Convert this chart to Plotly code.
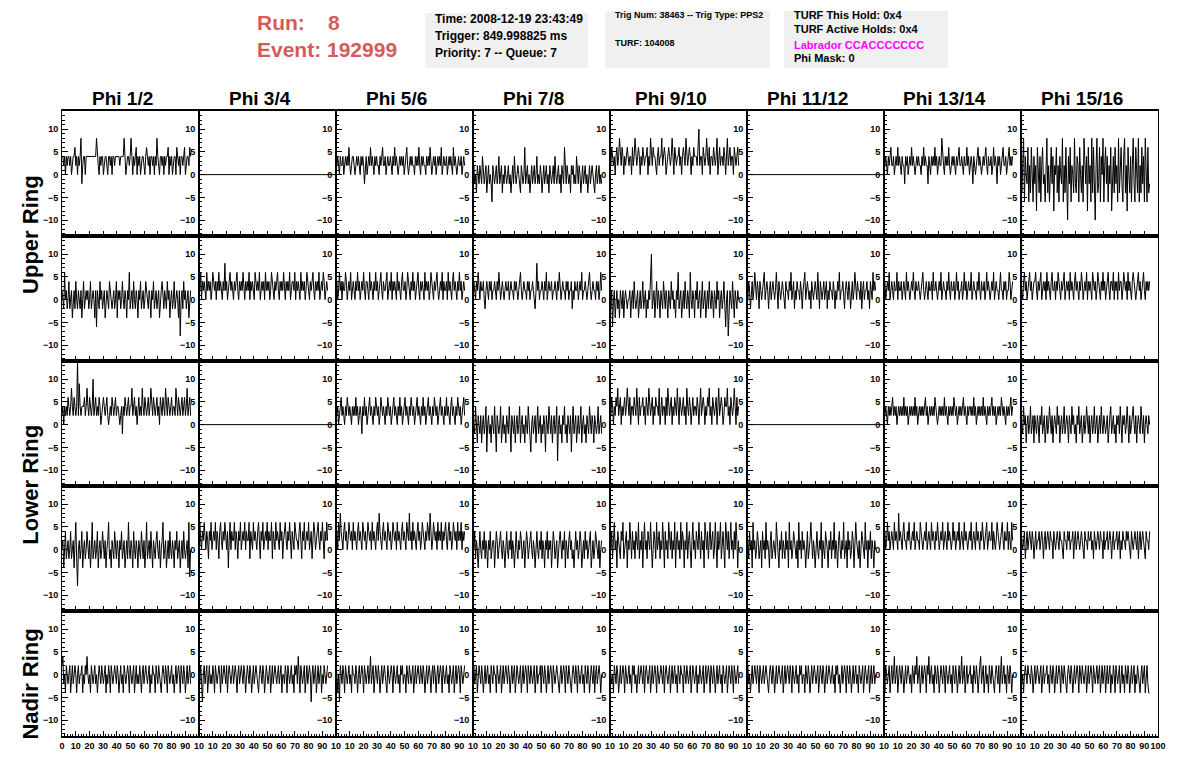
import plotly.graph_objects as go

# ---------------- data ----------------
SAMPLE_NS = 0.63          # sample spacing of the waveforms (ns)
FLAT_SPAN_NS = [0, 100]   # dead channels are drawn as a flat line over the full window
FLAT_VALUES = [0, 0]

phi_labels = ["Phi 1/2", "Phi 3/4", "Phi 5/6", "Phi 7/8",
              "Phi 9/10", "Phi 11/12", "Phi 13/14", "Phi 15/16"]
ring_labels = ["Upper Ring", "Lower Ring", "Nadir Ring"]
y_tick_vals = [-10, -5, 0, 5, 10]
x_tick_vals = [0, 10, 20, 30, 40, 50, 60, 70, 80, 90, 100]
x_tick_text = ["0", "10", "20", "30", "40", "50", "60", "70", "80", "90", "100"]

# Upper ring, top antennas (None = dead channel, flat at 0)
upper_top = [
    [4,4,2,4,0,4,2,4,4,2, 4,0,2,4,4,6,2,4,0,4, 2,4,8,-2,2,4,4,0,4,4, 4,4,4,4,4,4,4,4,4,4, 8,4,2,0,4,2,4,4,0,2,
     4,4,2,0,4,4,2,4,0,4, 4,2,4,4,4,4,4,2,4,4, 4,4,8,4,0,2,4,4,2,4, 8,4,0,4,2,4,6,0,4,2, 4,0,2,4,4,2,0,4,6,4,
     2,4,0,4,4,2,4,0,4,2, 8,4,2,0,4,4,2,4,0,4, 2,4,4,6,0,4,2,4,0,2, 4,4,0,6,4,2,4,0,4,4, 2,4,6,0,2,4,4,2,6,4],
    None,
    [4,2,4,2,0,4,2,2,4,0, 2,4,2,4,2,6,2,0,2,4, 4,2,0,2,4,2,4,2,0,4, 2,4,2,-2,2,4,0,2,4,2, 6,2,4,2,0,4,2,4,2,2,
     0,4,2,4,6,2,2,4,0,2, 4,2,2,4,2,0,4,2,6,2, 4,2,0,2,4,2,4,2,4,0, 2,4,6,2,0,2,4,2,4,2, 2,0,4,2,4,2,6,2,0,4,
     2,4,2,2,0,4,2,4,2,6, 2,0,2,4,2,4,0,2,4,2, 4,2,6,0,2,4,2,2,4,0, 2,4,2,4,2,0,6,2,4,2, 0,2,4,2,2,4,0,2,4,2],
    [0,2,-2,0,-4,2,0,-2,2,0, -2,4,0,-2,0,2,-4,0,2,-2, 0,-2,-6,2,0,-2,0,2,-2,0, 4,-2,0,2,-4,0,-2,2,0,-2, 0,2,-2,0,-4,0,2,-2,4,0,
     -2,0,2,0,-2,-4,2,0,-2,0, 6,-2,0,2,-2,0,-4,0,2,-2, 0,2,-2,0,4,-2,0,-2,2,0, -4,0,2,-2,0,2,-2,0,-4,2, 0,-2,0,2,-2,4,0,-2,0,2,
     -2,0,-4,2,0,-2,6,0,-2,2, 0,-2,0,-4,2,0,2,-2,0,-2, 4,0,-2,2,0,-4,0,2,-2,0, 2,-2,0,-4,0,2,-2,0,2,0, -2,-4,0,2,-2,0,2,-2,0,-2],
    [4,2,6,4,2,4,0,4,6,2, 4,8,4,2,6,4,0,4,2,4, 6,4,2,4,4,0,6,2,4,8, 4,2,4,6,4,0,4,2,6,4, 2,4,4,6,0,4,2,8,4,2,
     6,4,4,2,0,4,6,2,4,4, 8,2,4,6,4,0,2,4,6,4, 2,4,8,4,0,6,4,2,4,4, 6,2,4,0,4,6,4,2,8,4, 2,4,6,4,0,4,2,6,4,4,
     4,2,6,10,2,4,4,0,6,4, 2,4,8,4,2,6,0,4,4,2, 6,4,2,4,8,0,4,6,2,4, 4,2,6,4,0,4,8,2,4,6, 2,4,4,0,6,4,2,4,6,2],
    None,
    [4,2,4,2,0,4,2,4,6,2, 2,4,0,2,4,2,6,2,4,2, 0,4,2,2,-2,4,2,4,0,2, 4,2,6,2,4,2,0,2,4,2, 4,2,2,0,4,2,6,2,4,2,
     2,-2,4,2,0,4,2,4,2,6, 2,4,0,2,4,2,2,8,4,2, 0,4,2,4,2,6,2,0,2,4, 2,4,2,0,4,2,4,6,2,2, 4,2,0,4,2,2,6,2,4,0,
     2,4,2,-2,4,2,0,2,4,6, 2,4,2,0,2,4,2,4,6,2, 0,4,2,2,4,0,2,6,2,4, 2,-2,4,2,4,0,2,4,6,2, 2,4,0,2,4,6,2,4,2,4],
    [6,-4,2,8,-6,4,0,-2,6,-6, 2,-4,6,0,-6,4,-2,2,-8,6, 0,-4,4,-6,2,6,-2,0,-6,4, 8,-4,2,-6,0,6,-2,4,-8,2, 0,6,-4,2,-6,4,0,-2,8,-6,
     2,-4,6,0,-10,4,-2,6,-6,2, 0,-4,8,-2,-4,4,2,-6,6,0, -4,2,-6,8,0,-2,4,-8,6,-2, 2,-6,8,-4,6,0,-10,2,8,-4, -2,6,-6,4,0,8,-6,2,6,-2,
     4,-6,2,-2,6,-8,0,4,-4,6, -2,2,-6,8,-4,0,6,-2,-6,4, 8,-4,2,-8,6,0,-4,4,-6,2, 8,-2,-6,6,0,-4,8,-6,2,-4, 6,-2,4,-6,8,0,-6,6,-4,-2],
]

# Upper ring, bottom antennas
upper_bottom = [
    [2,0,-2,6,0,2,-2,0,4,-2, 0,2,-4,0,2,-2,4,0,-2,2, 0,-2,2,-4,0,4,-2,0,2,0, 2,-2,0,4,-2,0,2,0,-4,2, -6,2,0,-2,4,0,2,-2,0,2,
     -4,0,2,0,-2,4,2,0,-2,0, 2,-2,0,4,-4,2,0,2,-2,0, 4,0,-2,2,0,-4,2,0,6,-2, 0,2,-2,4,0,-2,2,0,-4,2, 0,4,-2,0,2,-2,0,4,2,0,
     -2,2,0,-4,2,0,4,-2,0,2, -2,0,2,-4,0,2,4,0,-2,2, 0,-2,4,0,2,-4,0,2,-2,0, 4,-2,0,2,0,-4,2,-8,0,2, -2,4,0,2,-2,0,2,-4,0,2],
    [4,2,6,0,4,2,4,2,0,6, 2,4,2,4,0,2,6,4,2,4, 0,4,2,6,2,4,2,0,4,2, 8,2,4,0,2,4,6,2,4,2, 0,4,2,4,6,2,0,4,2,4,
     2,6,2,0,4,2,4,2,6,0, 4,2,4,2,0,6,4,2,4,2, 6,0,2,4,2,4,0,6,2,4, 2,4,0,2,6,4,2,0,4,2, 4,6,2,0,4,2,4,2,6,2,
     0,4,2,4,2,6,0,2,4,4, 2,6,0,4,2,4,2,0,6,2, 4,2,4,0,2,6,4,2,0,4, 2,4,6,2,0,4,2,4,2,6, 0,2,4,2,6,4,0,2,4,2],
    [2,4,0,2,6,2,4,0,4,2, 2,6,4,0,2,4,2,6,0,2, 4,2,0,4,2,6,2,4,0,2, 4,2,6,2,0,4,4,2,0,6, 2,4,2,0,4,2,6,2,4,0,
     2,4,6,2,0,4,2,2,4,6, 0,2,4,2,6,0,4,2,4,2, 0,6,2,4,2,0,4,6,2,2, 4,0,2,6,4,2,0,4,2,6, 2,4,0,2,4,6,2,0,4,2,
     4,2,0,6,2,4,2,4,0,2, 6,4,2,0,4,2,4,6,2,0, 2,4,2,6,0,4,2,2,4,0, 6,2,4,2,0,4,6,2,4,2, 0,4,2,6,2,4,0,2,4,2],
    [2,4,2,0,4,2,6,2,0,4, 2,2,4,0,-2,2,4,2,0,4, 2,4,0,2,2,4,2,0,4,2, 6,2,0,2,4,2,0,2,4,2, 2,4,0,2,4,2,2,0,4,2,
     4,2,0,2,4,6,2,0,2,4, 2,2,0,4,2,4,0,2,2,4, 2,0,-2,2,8,2,4,0,2,2, 4,2,0,4,2,6,0,2,4,2, 2,4,0,2,2,4,2,0,4,2,
     6,2,0,2,4,2,2,0,4,2, 4,0,2,2,4,-2,2,0,4,2, 2,4,0,2,4,2,6,0,2,2, 4,2,0,2,4,6,2,0,2,4, 2,2,0,4,2,4,0,2,6,2],
    [0,-2,2,-6,0,2,-4,0,2,-2, 0,-4,2,0,-2,2,-4,0,2,0, -2,0,0,2,-4,0,2,-2,4,0, -2,0,2,-4,0,2,-2,0,4,-2, 0,2,-4,0,-2,2,0,4,10,-2,
     0,2,-4,0,4,-2,2,0,-4,2, 0,-2,4,0,-2,2,0,-4,2,0, -2,4,0,2,-2,0,-4,2,0,6, -2,0,2,-4,0,2,-2,4,0,-2, 2,0,-4,6,0,-2,2,0,-4,2,
     0,4,-2,0,2,-4,0,4,-2,0, 2,-4,0,2,-2,4,0,-2,2,0, -4,2,0,-2,4,0,2,-4,0,2, -2,0,4,-2,-6,0,2,-8,-4,2, 0,-2,4,0,-4,2,0,-2,2,0],
    [2,0,4,2,-2,2,4,0,2,6, 2,0,4,2,-2,4,2,0,2,4, 6,0,2,4,2,-2,2,4,0,2, 4,2,0,2,6,2,-2,4,2,0, 2,4,2,0,-2,4,2,2,0,4,
     2,6,0,2,4,-2,2,0,4,2, 2,0,4,2,-2,2,4,6,0,2, 4,2,0,2,-2,4,2,0,2,4, 2,0,6,2,-2,4,2,0,2,4, 0,2,4,-2,2,0,4,2,2,0,
     4,2,-2,2,0,4,2,6,0,2, 2,4,0,-2,2,4,2,0,4,2, -2,2,4,0,2,6,2,0,4,2, 2,0,4,-2,2,4,0,2,2,4, 0,2,-2,4,2,0,6,2,4,2],
    [2,4,0,2,4,2,6,0,2,4, 2,0,4,2,2,6,0,4,2,2, 4,0,2,4,2,0,6,2,4,2, 0,2,4,2,6,2,0,4,2,2, 4,2,0,2,4,6,2,0,2,4,
     2,0,4,2,2,4,0,6,2,2, 4,2,0,2,4,2,6,0,2,4, 2,2,0,4,2,6,2,0,4,2, 2,4,0,2,6,2,4,0,2,2, 4,0,2,6,2,4,0,2,4,2,
     2,6,0,2,4,2,2,0,4,2, 6,2,0,4,2,2,4,0,2,6, 2,4,2,0,2,4,2,6,0,2, 4,2,2,0,4,6,2,2,0,4, 2,4,0,2,2,6,4,0,2,4],
    [4,2,0,4,6,2,4,0,2,4, 6,2,4,0,2,4,4,6,2,0, 4,2,4,6,0,2,4,2,4,0, 6,2,4,2,0,4,6,2,2,4, 0,4,2,6,4,2,0,4,2,4,
     6,0,2,4,2,4,0,6,2,4, 2,0,4,6,2,4,2,0,4,2, 6,4,0,2,4,2,6,0,4,2, 4,2,0,6,4,2,4,0,2,6, 4,2,0,4,2,6,2,4,0,2,
     4,6,2,0,4,4,2,6,0,4, 2,4,0,6,2,4,4,0,2,6, 4,2,4,0,6,2,4,2,0,4, 6,4,2,0,2,4,6,2,4,0, 2,4,6,2,0,4,2,4,2,4],
]

# Lower ring, top antennas
lower_top = [
    [2,4,0,4,2,4,2,6,4,2, 4,8,4,2,6,4,2,4,14,2, 9,4,2,4,4,4,6,2,4,8, 4,2,6,4,2,4,10,2,4,6, 2,4,2,6,4,0,2,4,6,4,
     2,4,6,2,0,2,4,2,6,4, 2,4,6,2,4,4,2,0,2,4, -2,4,2,6,4,2,4,6,2,4, 4,8,2,4,6,2,4,0,4,6, 2,4,2,8,4,2,6,4,2,4,
     6,2,4,8,4,2,6,4,2,4, 6,2,4,0,6,4,2,6,4,2, 8,4,2,6,4,2,4,6,2,4, 4,2,8,4,2,6,4,2,4,6, 2,4,6,2,4,8,2,4,6,2],
    None,
    [4,2,4,0,2,4,6,2,4,2, 0,4,2,6,4,2,4,2,0,4, 2,4,2,6,2,4,0,2,4,2, -2,4,2,6,2,4,0,2,4,6, 2,4,2,0,4,2,6,4,2,4,
     0,2,6,4,2,4,2,0,4,2, 6,4,2,4,0,2,4,6,2,4, 2,0,4,2,6,2,4,0,2,4, 6,2,4,2,0,4,2,6,4,2, 4,0,2,4,6,2,4,2,0,4,
     2,6,2,4,0,2,4,6,2,4, 2,0,4,2,6,4,2,4,0,2, 4,6,2,4,2,0,4,2,6,2, 4,2,0,4,6,2,4,2,0,4, 2,6,4,2,4,0,2,4,6,2],
    [2,0,-2,4,0,-4,2,0,-2,2, -4,0,2,-2,0,4,-6,0,2,-2, 0,-4,2,0,-2,4,0,-6,2,0, -2,0,4,-4,0,2,-2,0,-4,2, 0,-2,4,0,-6,2,0,-2,2,-4,
     0,2,-2,0,4,-4,0,2,-2,0, -4,2,0,-2,4,0,-2,-6,0,2, -2,0,2,-4,0,4,-2,0,2,-4, 0,-2,2,0,-6,2,0,-2,4,0, -2,2,-4,0,2,-2,0,4,-8,0,
     2,-2,0,-4,2,0,4,-2,0,-4, 2,0,-2,2,-6,0,4,-2,0,2, -4,0,2,-2,0,4,-4,0,2,-2, 0,-4,2,0,-2,4,0,-2,2,0, -4,2,0,-2,0,4,-2,0,2,-2],
    [4,2,6,4,0,4,2,6,4,8, 2,4,6,0,4,2,4,6,2,4, 8,4,2,6,0,4,4,2,6,4, 2,8,4,0,6,2,4,4,6,2, 4,0,6,4,2,8,4,2,4,6,
     0,4,2,6,4,4,2,8,0,4, 6,2,4,4,0,6,2,8,4,2, 4,6,0,4,2,6,4,2,8,4, 0,6,4,2,4,6,2,4,0,8, 4,2,6,4,0,4,6,2,4,4,
     2,6,4,0,4,8,2,4,6,4, 0,4,2,6,4,8,2,4,0,6, 4,2,4,6,0,4,8,2,4,6, 4,0,2,6,4,4,8,2,4,0, 6,4,2,4,8,4,0,6,2,4],
    None,
    [4,2,4,2,0,4,2,4,2,4, 6,2,4,2,4,0,2,4,2,4, 2,4,2,6,2,4,2,4,0,2, 4,2,4,2,4,2,6,2,4,0, 2,4,2,4,2,4,2,4,6,2,
     4,0,2,4,2,4,2,4,2,6, 4,2,0,2,4,2,4,2,4,2, 6,2,4,2,0,4,2,4,2,4, 2,6,4,2,4,0,2,4,2,4, 2,4,6,2,4,2,0,4,2,4,
     4,2,4,2,6,2,4,0,2,4, 2,4,2,4,2,6,2,4,2,0, 4,2,4,2,4,6,2,4,2,4, 0,2,4,2,4,2,6,4,2,4, 2,0,4,2,4,2,4,6,2,4],
    [2,0,-2,4,0,2,-4,0,2,-2, 0,4,-2,0,2,-4,2,0,-2,2, 0,-4,2,0,4,-2,0,2,-4,0, 2,-2,0,4,0,-2,2,-4,0,2, 0,-2,4,0,2,-4,0,2,-2,0,
     4,-2,0,2,0,-4,2,0,-2,4, 0,2,-2,0,-4,2,0,4,-2,0, 2,-4,0,2,-2,0,4,0,-2,2, -4,0,2,-2,0,4,-2,0,2,-4, 0,2,-2,4,0,-2,2,0,-2,0,
     2,-4,0,2,4,-2,0,2,-2,0, -4,2,0,2,-2,4,0,-4,2,0, 2,-2,0,4,0,-4,2,-2,0,2, 4,0,-2,2,-4,0,2,0,-2,4, 0,-2,2,-4,0,2,0,-2,2,0],
]

# Lower ring, bottom antennas
lower_bottom = [
    [0,2,-4,0,4,-2,0,2,-2,0, 4,-2,0,2,-4,0,6,-2,-8,0, 2,-2,0,4,-4,0,2,-2,0,4, 0,-2,2,-4,0,6,-2,0,2,-2, 0,4,-4,0,2,-2,0,4,0,-2,
     2,-4,0,2,6,-2,0,-4,2,0, -2,4,0,-2,2,0,-4,2,0,4, -2,0,2,-4,0,2,-2,6,0,-2, 2,0,-4,4,0,-2,2,0,-4,2, 0,-2,4,0,-2,2,-4,0,6,-2,
     0,2,-2,4,0,-4,2,0,-2,2, 4,0,-2,2,-4,0,2,6,-2,0, 2,-4,0,2,-2,4,0,-2,2,0, -4,2,0,4,-2,0,2,-4,0,2, -2,4,0,-2,0,2,-4,6,-6,0],
    [4,6,2,0,4,2,6,2,0,4, 2,-2,4,2,6,0,2,4,2,6, 0,4,2,-2,4,6,2,0,4,2, 6,2,0,4,-4,2,6,0,4,2, 2,6,0,4,2,-2,4,2,6,0,
     2,4,2,6,0,4,2,2,6,-2, 4,2,0,6,2,4,2,0,4,6, 2,-2,4,2,6,0,2,4,2,6, 0,4,2,2,6,-2,4,2,0,6, 2,4,2,0,6,2,4,-2,2,4,
     6,2,0,4,2,6,2,-2,4,2, 0,6,4,2,2,0,4,6,2,-2, 4,2,6,0,2,4,2,6,0,2, 4,-2,2,6,4,0,2,4,6,2, 0,4,2,6,2,-2,4,2,6,2],
    [2,4,0,6,2,8,4,2,0,4, 6,2,4,0,2,6,4,2,4,0, 6,2,4,2,0,4,6,2,4,2, 0,6,4,2,4,0,2,6,4,2, 4,0,6,2,4,2,0,4,6,2,
     8,4,2,0,4,6,2,4,2,0, 6,4,2,4,0,2,6,4,2,4, 0,6,2,4,2,0,4,6,2,4, 2,0,6,4,2,8,2,4,0,6, 2,4,2,0,4,6,2,4,0,2,
     6,4,2,0,4,2,6,4,2,8, 4,0,2,6,4,2,4,0,6,2, 4,2,6,0,4,2,4,6,2,0, 4,6,2,4,0,2,6,4,2,4, 0,6,2,4,2,6,0,4,2,4],
    [2,0,4,-2,2,0,-4,2,4,0, -2,2,0,4,-2,2,0,-4,2,0, 4,-2,0,2,2,-4,0,4,2,-2, 0,2,4,0,-2,2,0,-4,2,4, 0,-2,2,0,4,-2,2,0,-4,2,
     4,0,-2,2,0,4,2,-2,0,2, -4,0,4,2,-2,0,2,4,0,-2, 2,0,-4,2,4,0,-2,2,0,4, -2,2,0,-4,2,0,4,-2,2,0, 2,-4,0,4,2,-2,0,2,-4,0,
     2,4,0,-2,2,0,4,-4,2,0, -2,2,4,0,2,-2,0,-4,2,4, 0,2,-2,0,4,2,-4,0,2,-2, 4,0,2,-2,0,2,4,-4,0,2, -2,0,4,2,0,-2,2,-4,0,2],
    [2,0,4,-2,2,6,0,2,-4,4, 2,0,-2,4,2,6,-2,0,2,4, -4,2,0,6,2,-2,4,0,2,-2, 4,2,0,6,-2,2,0,4,-4,2, 6,0,2,-2,4,2,0,6,2,-4,
     0,4,2,-2,6,0,2,4,-2,2, 0,6,2,-4,4,0,2,-2,6,2, 0,4,-2,2,0,6,-4,2,4,0, 2,-2,6,0,4,2,-4,2,0,6, -2,2,4,0,-4,2,6,0,2,-2,
     4,2,0,6,2,-2,4,0,2,-4, 6,2,0,4,-2,2,6,0,2,4, -2,0,6,2,-4,4,0,2,6,-2, 2,4,0,-4,6,2,0,4,-2,2, 6,0,2,-2,4,0,6,2,-4,2],
    [0,2,-2,4,0,2,-4,6,0,2, -2,0,4,2,-2,0,2,-4,4,0, 2,-2,6,0,2,0,-4,2,4,-2, 0,2,0,-2,6,2,0,-4,2,0, 4,-2,2,0,-2,4,0,2,-4,6,
     0,2,-2,0,4,2,0,-2,2,-4, 6,0,2,-2,4,0,2,0,-4,2, 4,-2,0,2,6,0,-2,2,0,-4, 2,4,0,-2,2,0,6,-4,2,0, -2,4,2,0,-4,2,0,4,-2,2,
     0,6,-2,2,0,-4,2,4,0,-2, 2,0,6,-2,0,2,-4,4,0,2, -2,0,4,2,-4,0,6,2,0,-2, 2,-4,0,4,2,0,-2,6,0,2, -4,2,0,4,-2,2,0,-4,2,0],
    [2,4,0,2,6,2,4,0,2,4, 2,0,6,2,4,2,0,8,2,4, 2,0,4,6,2,2,0,4,2,6, 2,0,2,4,2,6,0,2,4,2, 2,0,6,4,2,0,2,4,2,6,
     0,2,4,2,0,6,2,4,2,0, 4,2,6,2,0,2,4,2,6,0, 2,4,2,0,6,2,4,2,0,2, 6,2,4,0,2,4,2,6,0,2, 4,2,0,6,2,4,2,0,2,4,
     2,6,0,2,4,2,0,6,2,4, 2,0,4,2,6,2,0,2,4,6, 0,2,4,2,2,6,0,4,2,0, 2,6,4,2,0,2,4,6,2,0, 4,2,2,6,0,4,2,0,6,2],
    [4,2,0,2,4,-2,2,4,0,2, 4,2,0,4,2,-2,2,4,0,2, 2,4,0,2,4,2,-2,2,4,0, 2,4,2,0,4,2,2,-2,4,2, 0,2,4,2,0,4,2,2,0,-2,
     4,2,2,0,4,2,4,0,2,2, 4,-2,2,4,0,2,4,2,0,2, 4,2,0,-2,4,2,2,0,4,2, 2,4,0,2,-2,4,2,0,2,4, 2,0,4,2,2,-2,4,0,2,2,
     4,0,2,4,2,-2,2,4,0,2, 2,4,0,2,4,-2,2,0,4,2, 2,0,4,2,4,2,0,-2,4,2, 0,2,4,2,0,4,-2,2,4,0, 2,4,2,0,-2,4,2,2,0,4],
]

# Nadir ring
nadir = [
    [2,4,-2,0,-4,2,0,-2,0,2, -4,0,2,-2,0,2,0,-4,0,2, -2,0,0,2,-4,0,-2,2,0,4, 0,-2,0,-4,2,0,-2,0,2,-2, 0,-4,0,2,0,-2,2,0,-2,0,
     2,-4,0,-2,2,0,-4,2,0,-2, 0,2,0,-2,2,0,-4,0,2,-2, 0,-4,2,0,-2,0,2,0,-4,2, 0,-2,0,2,-4,0,2,-2,0,-2, 2,0,-4,0,2,-2,0,2,0,-2,
     0,2,-4,0,-2,2,0,0,-4,2, 0,-2,2,0,-2,-4,0,2,0,-2, 2,0,-4,2,0,-2,0,2,-2,0, -4,0,2,-2,0,2,0,-4,2,0, -2,2,0,-4,0,2,-2,0,2,-2],
    [0,-2,2,-4,-6,0,2,-2,0,2, -4,0,2,-2,0,-2,2,0,-4,2, 0,-2,0,2,0,-4,2,-2,0,2, 0,-2,2,-4,0,2,0,-2,0,2, -2,0,2,0,-4,0,2,-2,0,2,
     0,-2,2,0,-4,0,2,0,-2,2, 0,-4,0,2,-2,0,2,0,-2,-4, 0,2,0,-2,2,0,-4,0,2,0, -2,0,2,-4,0,2,-2,0,2,0, -2,0,2,-2,0,2,-4,0,0,-2,
     2,0,-4,2,0,-2,0,2,-2,0, -4,2,0,2,-2,4,0,-4,2,0, -2,0,2,-4,0,2,-2,0,2,0, -6,0,2,-2,0,2,-4,0,2,-2, 0,2,-4,0,-2,2,0,-2,0,2],
    [2,0,-4,0,-6,2,0,-2,2,0, -4,2,0,-2,0,2,-2,0,-4,2, 0,0,-2,2,0,-4,0,2,-2,0, 2,0,-4,2,0,-2,0,2,-2,0, 4,-2,0,2,-4,0,2,0,-2,2,
     0,-4,0,2,-2,0,2,0,-2,-4, 2,0,-2,0,2,0,-4,2,0,-2, 0,2,-2,0,-4,2,0,2,-2,0, 0,-4,2,0,-2,2,0,-2,0,2, -4,0,2,-2,0,2,0,-2,2,0,
     -2,2,0,-4,0,2,-2,0,2,0, -4,0,2,-2,2,0,-4,0,2,-2, 0,2,0,-4,2,0,-2,0,2,-2, 0,-4,2,0,-2,0,2,-4,0,2, -2,0,2,0,-4,2,0,-2,0,2],
    [0,2,-2,0,2,-4,0,2,0,-2, 2,0,-4,0,2,-2,0,2,-2,0, -4,2,0,-2,2,0,0,-4,2,0, -2,0,2,-4,0,2,-2,0,2,0, -2,2,0,-4,0,2,-2,0,2,-4,
     0,2,0,-2,0,2,-4,0,2,-2, 0,2,0,-4,2,0,-2,2,0,-2, 0,2,-4,0,2,-2,0,0,2,-4, 2,0,-2,2,0,-4,0,2,-2,0, 2,0,-4,2,0,-2,0,2,0,-2,
     -4,0,2,-2,0,2,0,-4,2,0, -2,2,0,-2,-4,0,2,0,-2,2, 0,-4,2,0,-2,0,2,-2,0,-4, 2,0,-2,2,0,-4,0,2,0,-2, 2,-4,0,2,-2,0,2,0,-4,0],
    [2,0,-2,0,-4,2,0,-2,2,0, -4,0,2,-2,0,2,0,-4,2,0, -2,0,2,-2,0,-4,2,0,2,-2, 0,-4,0,2,-2,0,2,0,-2,2, -4,0,2,0,-2,0,2,-4,0,2,
     -2,0,2,0,-4,2,0,-2,0,2, 0,-2,2,-4,0,2,0,-2,0,2, -4,0,2,-2,0,2,-2,0,-4,2, 0,-2,2,0,0,-4,2,0,-2,2, 0,-2,0,2,-4,0,2,0,-2,0,
     2,-4,0,-2,2,0,-2,0,2,-4, 0,2,-2,0,2,0,-4,2,0,-2, 2,0,-4,0,2,-2,0,2,-2,0, -4,2,0,-2,0,2,-4,0,2,0, -2,2,0,-4,2,0,-2,0,2,-2],
    [0,2,-2,0,-4,0,2,-2,0,2, 0,-2,2,0,-4,2,0,-2,0,2, -2,0,2,0,-2,-4,0,2,0,-2, 2,0,-4,0,2,-2,0,2,0,-2, 0,2,-4,0,2,-2,0,2,0,-2,
     2,0,-4,2,0,-2,0,2,-2,0, -4,2,0,2,-2,0,0,-4,2,0, -2,2,0,-4,0,2,-2,0,2,0, -2,0,2,-4,0,2,0,-2,2,0, -4,0,2,-2,0,2,0,-2,0,2,
     -2,0,-4,2,0,2,-2,0,-4,0, 2,-2,0,2,0,-4,2,0,-2,2, 0,-4,0,2,-2,0,2,-2,0,-4, 2,0,-2,0,2,-4,0,2,0,-2, 0,2,-4,0,2,-2,0,2,-2,0],
    [0,-4,2,0,-2,0,2,-4,0,2, -2,0,4,-2,0,2,-4,0,2,0, -2,2,0,-4,0,2,-2,0,2,0, -2,0,-4,2,0,-2,2,0,4,-2, 0,2,-4,0,2,-2,0,2,0,-4,
     2,0,4,-2,0,2,-2,0,-4,2, 0,-2,2,0,-4,0,2,0,-2,2, 0,-4,2,0,-2,0,2,-2,0,-4, 2,0,-2,2,0,-4,0,2,-2,0, 4,-2,0,2,-4,0,2,-2,0,0,
     2,-2,0,-4,2,0,-2,2,0,-4, 0,2,4,-2,0,2,-4,0,2,-2, 0,-4,2,0,-2,2,0,-2,-4,0, 2,0,-2,2,-4,0,4,-2,0,2, -2,0,-4,2,0,-2,2,0,-4,0],
    [2,-2,0,-4,0,2,0,-2,2,0, 0,-2,2,0,-4,0,2,-2,0,2, 0,-2,0,2,-4,0,2,-2,0,0, 2,-2,0,-4,2,0,-2,2,0,-4, 0,2,-2,0,2,0,-4,2,0,-2,
     2,0,-2,-4,0,2,0,-2,2,0, -4,0,2,-2,0,2,0,-4,2,0, -2,2,0,-2,0,2,-4,0,2,-2, 0,2,0,-4,2,0,-2,0,2,-2, 0,2,-4,0,2,-2,0,2,-4,0,
     2,-2,0,2,-4,0,-2,2,0,-4, 2,0,-2,0,2,-4,0,2,-2,0, -4,2,0,-2,2,0,-4,0,2,-2, 0,2,-4,0,-2,2,0,-2,-4,0, 2,-2,0,2,-4,0,2,-2,-4,-4],
]

panel_rows = [upper_top, upper_bottom, lower_top, lower_bottom, nadir]

# ---------------- geometry (page pixels; the page body adds an 8 px margin) ----------------
PAGE_OFF = 8
W, H = 1196 - 2 * PAGE_OFF, 772 - 2 * PAGE_OFF
PANEL_L, PANEL_R, PANEL_T, PANEL_B = 62, 1158, 111, 736.5
ML = PANEL_L - PAGE_OFF
MT = PANEL_T - PAGE_OFF
MR = W - (PANEL_R - PAGE_OFF)
MB = H - (PANEL_B - PAGE_OFF)
PW, PH = W - ML - MR, H - MT - MB
NROWS, NCOLS = 5, 8
FONT = "Liberation Sans, Arial, Helvetica, sans-serif"


def px_x(px):
    return (px - PAGE_OFF - ML) / PW


def px_y(py):
    return 1 - (py - PAGE_OFF - MT) / PH


fig = go.Figure()
layout = {}

for r, row in enumerate(panel_rows):
    for c, vals in enumerate(row):
        idx = r * NCOLS + c + 1
        if vals is None:
            xs, ys = FLAT_SPAN_NS, FLAT_VALUES
        else:
            xs = [i * SAMPLE_NS for i in range(len(vals))]
            ys = vals
        fig.add_trace(go.Scatter(
            x=xs, y=ys, mode="lines",
            line=dict(color="black", width=1),
            xaxis=f"x{idx}", yaxis=f"y{idx}",
            showlegend=False, hoverinfo="skip"))
        # neighbouring pads overpaint the edge labels, as in the original canvas
        ttext = list(x_tick_text)
        if c > 0:
            ttext[0] = ""
        if c < NCOLS - 1:
            ttext[-1] = "10"
        xa = dict(
            domain=[c / NCOLS, (c + 1) / NCOLS], anchor=f"y{idx}",
            range=[0, 100], showgrid=False, zeroline=False,
            showline=True, linecolor="black", linewidth=2, mirror=True,
            ticks="inside", ticklen=5, tickwidth=1, tickcolor="black",
            tickvals=x_tick_vals, ticktext=ttext, tickangle=0,
            minor=dict(dtick=2, ticks="inside", ticklen=2.5, tickcolor="black"),
            showticklabels=(r == NROWS - 1),
            tickfont=dict(family=FONT, size=9, color="black", weight="bold"),
        )
        ya = dict(
            domain=[1 - (r + 1) / NROWS, 1 - r / NROWS], anchor=f"x{idx}",
            range=[-13.5, 14], showgrid=False, zeroline=False,
            showline=True, linecolor="black", linewidth=1, mirror=True,
            ticks="inside", ticklen=6, tickwidth=1, tickcolor="black",
            tickvals=y_tick_vals,
            minor=dict(dtick=1, ticks="inside", ticklen=3, tickcolor="black"),
            tickfont=dict(family=FONT, size=9, color="black", weight="bold"),
            ticklabelstandoff=1,
        )
        layout["xaxis" if idx == 1 else f"xaxis{idx}"] = xa
        layout["yaxis" if idx == 1 else f"yaxis{idx}"] = ya

annotations = []
# column titles
for c, lab in enumerate(phi_labels):
    cx = PANEL_L + (c + 0.5) * (PANEL_R - PANEL_L) / NCOLS - 8
    annotations.append(dict(
        x=px_x(cx), y=px_y(98), xref="paper", yref="paper",
        text=lab, showarrow=False, xanchor="center", yanchor="middle",
        font=dict(family=FONT, size=19, color="black", weight="bold")))

# ring labels
for lab, cy in zip(ring_labels, [235, 485, 685]):
    annotations.append(dict(
        x=px_x(31), y=px_y(cy), xref="paper", yref="paper",
        text=lab, showarrow=False, textangle=-90,
        xanchor="center", yanchor="middle",
        font=dict(family=FONT, size=22, color="black", weight="bold")))

RED = "#d65a5a"
header_items = [
    # (text, x px, baseline y px, size, color)
    ("Run:", 255, 30, 21, RED),
    ("8", 326, 30, 21, RED),
    ("Event: 192999", 255, 57, 21, RED),
    ("Time: 2008-12-19 23:43:49", 433, 23, 12, "black"),
    ("Trigger: 849.998825 ms", 433, 40, 12, "black"),
    ("Priority: 7 -- Queue: 7", 433, 57, 12, "black"),
    ("Trig Num: 38463 -- Trig Type: PPS2", 613, 18, 9, "black"),
    ("TURF: 104008", 613, 46, 9, "black"),
    ("TURF This Hold: 0x4", 792, 19, 11, "black"),
    ("TURF Active Holds: 0x4", 792, 33, 11, "black"),
    ("Labrador CCACCCCCCC", 792, 49, 11, "#ff00ff"),
    ("Phi Mask: 0", 792, 62, 11, "black"),
]
for text, x0, base, size, col in header_items:
    annotations.append(dict(
        x=px_x(x0), y=px_y(base - 0.36 * size), xref="paper", yref="paper",
        text=text, showarrow=False, xanchor="left", yanchor="middle",
        font=dict(family=FONT, size=size, color=col, weight="bold")))

shapes = []
for x0, x1, y0, y1 in [(425, 588, 13, 68), (605, 770, 11, 68), (784, 948, 11, 68)]:
    shapes.append(dict(
        type="rect", xref="paper", yref="paper",
        x0=px_x(x0), x1=px_x(x1), y0=px_y(y1), y1=px_y(y0),
        fillcolor="#f0f0f0", line=dict(width=0), layer="below"))

fig.update_layout(
    width=W, height=H,
    margin=dict(l=ML, r=MR, t=MT, b=MB),
    paper_bgcolor="white", plot_bgcolor="white",
    font=dict(family=FONT, color="black"),
    annotations=annotations, shapes=shapes,
    showlegend=False,
    **layout,
)

fig.write_html("out.html")
